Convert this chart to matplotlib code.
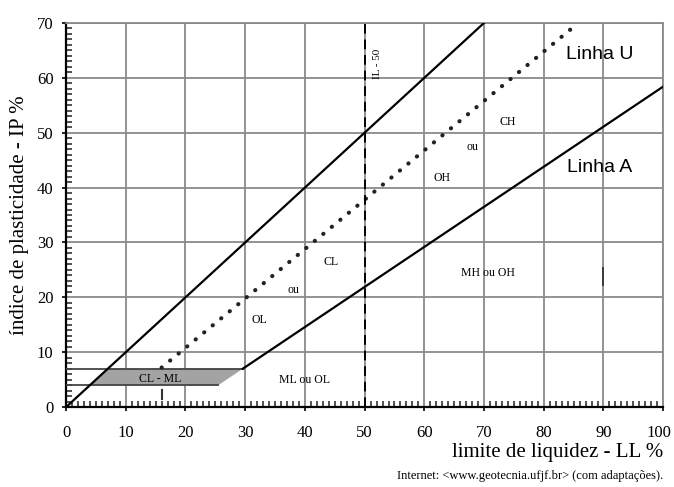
import numpy as np
import matplotlib
matplotlib.use('Agg')
import matplotlib.pyplot as plt
import matplotlib.transforms as mtransforms

# Plasticity chart data (LL %, IP %)
line_u_ll = [0, 70]
line_u_ip = [0, 70]
line_a_ll = [29.6, 100]
line_a_ip = [7.0, 58.4]
dotted_ll = [16, 85.8]
dotted_ip = [7.2, 70]
band_ll = [4, 7, 29.6, 25.5]
band_ip = [4, 7, 7, 4]
il50_ll = 50

x_ticks = [0, 10, 20, 30, 40, 50, 60, 70, 80, 90, 100]
y_ticks = [0, 10, 20, 30, 40, 50, 60, 70]

zone_labels = ['CH', 'ou', 'OH', 'CL', 'ou', 'OL', 'CL - ML', 'ML ou OL', 'MH ou OH']
zone_ll = [73.9, 68.0, 63.0, 44.4, 38.0, 32.3, 15.7, 40.0, 70.7]
zone_ip = [52.0, 47.4, 41.7, 26.4, 21.3, 15.9, 5.2, 4.9, 24.4]

serif = 'Liberation Serif'
sans = 'Liberation Sans'

fig = plt.figure(figsize=(6.74, 4.87), dpi=100)
ax = fig.add_axes([0.098, 0.164, 0.886, 0.789])

ax.set_xlim(0, 100)
ax.set_ylim(0, 70)

# grid
for x in x_ticks:
    ax.axvline(x, color='#8a8a8a', lw=1.3, zorder=1)
for y in y_ticks:
    ax.axhline(y, color='#8a8a8a', lw=1.3, zorder=1)

# CL-ML band
ax.fill(band_ll, band_ip, color='#a3a3a3', zorder=2, lw=0)
ax.plot([0, 29.6], [7, 7], color='#444444', lw=1.3, zorder=3)
ax.plot([0, 25.5], [4, 4], color='#444444', lw=1.3, zorder=3)

# dotted vertical at LL=16 (mostly hidden by the band)
ax.plot([16, 16], [1.5, 3.2], color='#333333', lw=1.5, zorder=3)
ax.plot(dotted_ll, dotted_ip, color='#222222', lw=3.0,
        linestyle=(0, (0.05, 2.6)), dash_capstyle='round', zorder=3)

ax.plot(line_u_ll, line_u_ip, color='black', lw=1.6, zorder=4)
ax.plot(line_a_ll, line_a_ip, color='black', lw=1.6, zorder=4)
ax.plot([il50_ll, il50_ll], [0, 70], color='black', lw=1.4,
        linestyle=(0, (5, 3)), zorder=4)
ax.plot([90, 90], [22.2, 25.3], color='#333333', lw=1.3, zorder=4)

# texts
ax.text(52.2, 62.5, 'IL - 50', rotation=90, family=serif, fontsize=8,
        ha='center', va='center')
ax.text(89.4, 64.2, 'Linha U', family=sans, fontsize=14, ha='center', va='center')
ax.text(89.4, 43.7, 'Linha A', family=sans, fontsize=14, ha='center', va='center')
for lab, xx, yy in zip(zone_labels, zone_ll, zone_ip):
    ax.text(xx, yy, lab, family=serif, fontsize=8.5, ha='center', va='center',
            zorder=5)

# ticks and spines
ax.set_xticks(x_ticks)
ax.set_yticks(y_ticks)
ax.set_xticks(np.arange(0, 101, 1), minor=True)
ax.set_yticks(np.arange(0, 71, 1), minor=True)
ax.tick_params(which='minor', direction='in', length=4, width=1.1, color='#222222')
ax.tick_params(which='major', direction='out', length=3, width=1.2, pad=6,
               labelsize=12)
for lbl in ax.get_xticklabels() + ax.get_yticklabels():
    lbl.set_family(serif)
ax.tick_params(axis='x', pad=10)
# keep the "100" label inside the figure
last = ax.get_xticklabels()[-1]
last.set_transform(last.get_transform() +
                   mtransforms.ScaledTranslation(-3 / 72, 0, fig.dpi_scale_trans))
ax.spines['bottom'].set_linewidth(1.6)
ax.spines['left'].set_linewidth(1.6)
ax.spines['top'].set_color('#8a8a8a')
ax.spines['right'].set_color('#8a8a8a')
ax.spines['top'].set_linewidth(1.3)
ax.spines['right'].set_linewidth(1.3)

ax.set_ylabel('índice de plasticidade - IP %', family=serif, fontsize=15, labelpad=6)
fig.text(0.984, 0.07, 'limite de liquidez - LL %', family=serif, fontsize=15,
         ha='right', va='center')
fig.text(0.984, 0.022, 'Internet: <www.geotecnia.ufjf.br> (com adaptações).',
         family=serif, fontsize=9, ha='right', va='center')

fig.savefig('out.png', dpi=100)
